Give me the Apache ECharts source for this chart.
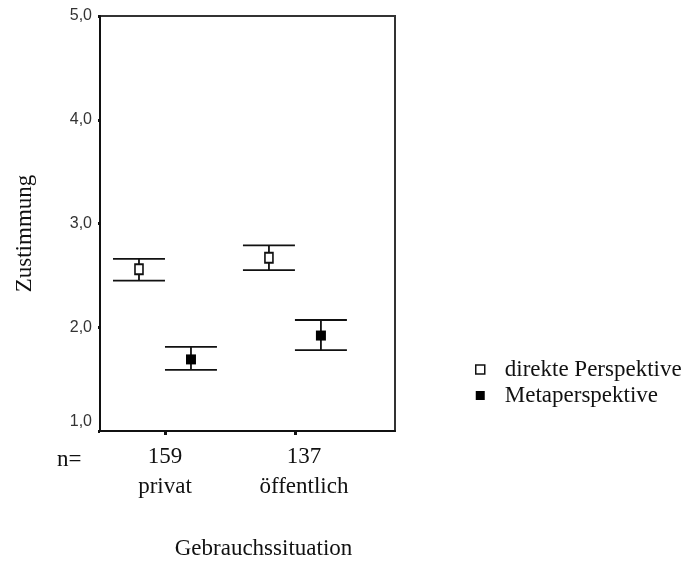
<!DOCTYPE html>
<html>
<head>
<meta charset="utf-8">
<script src="https://cdn.jsdelivr.net/npm/echarts@6/dist/echarts.min.js"></script>
<style>html,body{margin:0;padding:0;background:#fff;}#c{width:693px;height:565px;}</style>
</head>
<body>
<div id="c"></div>
<script>
const categories = ['privat', 'öffentlich'];
const nCounts = [159, 137];
const seriesNames = ['direkte Perspektive', 'Metaperspektive'];
const direktMean = [2.56, 2.67];
const direktLow = [2.45, 2.55];
const direktHigh = [2.66, 2.79];
const metaMean = [1.69, 1.92];
const metaLow = [1.59, 1.78];
const metaHigh = [1.81, 2.07];

const OFF = 0.2, CAP = 0.2;
const catPos = categories.map((c, i) => i + 1);
function pts(mean, shift) { return mean.map((m, i) => [catPos[i] + shift, m]); }
function bars(lo, hi, shift) { return lo.map((l, i) => [catPos[i] + shift, l, hi[i]]); }

function renderErr(params, api) {
  const x = api.value(0), lo = api.value(1), hi = api.value(2);
  const pHi = api.coord([x, hi]), pLo = api.coord([x, lo]);
  const l1 = api.coord([x - CAP, hi]), r1 = api.coord([x + CAP, hi]);
  const l2 = api.coord([x - CAP, lo]), r2 = api.coord([x + CAP, lo]);
  const st = { stroke: '#111', lineWidth: 1.8 };
  return { type: 'group', children: [
    { type: 'line', shape: { x1: pHi[0], y1: pHi[1], x2: pLo[0], y2: pLo[1] }, style: st },
    { type: 'line', shape: { x1: l1[0], y1: l1[1], x2: r1[0], y2: r1[1] }, style: st },
    { type: 'line', shape: { x1: l2[0], y1: l2[1], x2: r2[0], y2: r2[1] }, style: st }
  ]};
}

const serif = 'Liberation Serif';
const sans = 'Liberation Sans';
const chart = echarts.init(document.getElementById('c'), null, { renderer: 'canvas' });
chart.setOption({
  animation: false,
  backgroundColor: '#fff',
  grid: { left: 100, right: 298, top: 16, bottom: 130, show: true, borderColor: '#333', borderWidth: 2 },
  xAxis: {
    type: 'value', min: 0.5, max: 2.77,
    name: 'Gebrauchssituation', nameLocation: 'middle', nameGap: 106,
    nameTextStyle: { fontFamily: serif, fontSize: 23, color: '#111', padding: [0, 0, 0, 32] },
    axisLine: { show: true, lineStyle: { color: '#111', width: 2 } },
    axisTick: { show: true, length: 4, lineStyle: { color: '#111', width: 3 }, customValues: catPos },
    axisLabel: {
      customValues: catPos, margin: 11,
      fontFamily: serif, fontSize: 23, color: '#111', lineHeight: 30,
      formatter: v => {
        const i = catPos.indexOf(v);
        if (i < 0) return '';
        return i === 0 ? nCounts[i] + '\n' + categories[i] : '{s|' + nCounts[i] + '}\n{s|' + categories[i] + '}';
      },
      rich: { s: { fontFamily: serif, fontSize: 23, color: '#111', lineHeight: 30, padding: [0, 0, 0, 18] } }
    },
    splitLine: { show: false }
  },
  yAxis: {
    type: 'value', min: 1, max: 5, interval: 1,
    name: 'Zustimmung', nameLocation: 'middle', nameGap: 64,
    nameTextStyle: { fontFamily: serif, fontSize: 23, color: '#111', padding: [0, 20, 0, 0] },
    axisLine: { show: true, lineStyle: { color: '#111', width: 2 } },
    axisTick: { show: true, length: 2, lineStyle: { color: '#111', width: 3 } },
    axisLabel: {
      fontFamily: sans, fontSize: 16, color: '#333', margin: 8,
      formatter: v => v === 1 ? '{b|1,0}' : v.toFixed(1).replace('.', ','),
      rich: { b: { fontFamily: sans, fontSize: 16, color: '#333', padding: [0, 0, 18, 0] } }
    },
    splitLine: { show: false }
  },
  legend: {
    orient: 'vertical', left: 475, top: 358, itemGap: 3, padding: 0,
    itemWidth: 9, itemHeight: 9,
    textStyle: { fontFamily: serif, fontSize: 23, color: '#111', padding: [0, 0, 0, 15] },
    data: [
      { name: seriesNames[0], icon: 'rect', itemStyle: { color: '#fff', borderColor: '#111', borderWidth: 1.5 } },
      { name: seriesNames[1], icon: 'rect', itemStyle: { color: '#000', borderColor: '#000', borderWidth: 0 } }
    ]
  },
  graphic: [
    { type: 'text', x: 57, y: 460, style: { text: 'n=', fontFamily: serif, fontSize: 23, fill: '#111', verticalAlign: 'middle' } }
  ],
  series: [
    { type: 'custom', name: 'err1', renderItem: renderErr, data: bars(direktLow, direktHigh, -OFF), encode: { x: 0, y: [1, 2] }, z: 2 },
    { type: 'custom', name: 'err2', renderItem: renderErr, data: bars(metaLow, metaHigh, OFF), encode: { x: 0, y: [1, 2] }, z: 2 },
    { type: 'scatter', name: seriesNames[0], data: pts(direktMean, -OFF), symbol: 'rect', symbolSize: [8, 10],
      itemStyle: { color: '#fff', borderColor: '#111', borderWidth: 1.8, opacity: 1 }, z: 5 },
    { type: 'scatter', name: seriesNames[1], data: pts(metaMean, OFF), symbol: 'rect', symbolSize: [10, 10],
      itemStyle: { color: '#000', borderColor: '#000', borderWidth: 0, opacity: 1 }, z: 5 }
  ]
});
</script>
</body>
</html>
